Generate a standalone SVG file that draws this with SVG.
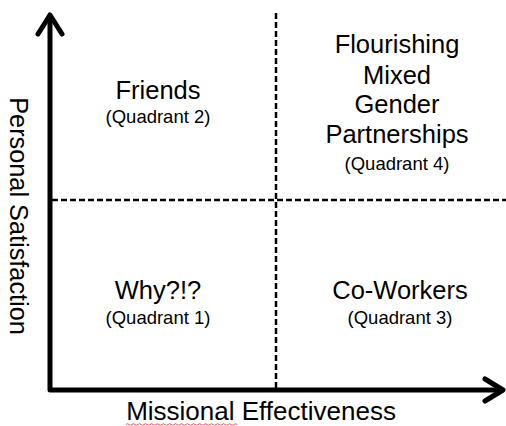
<svg xmlns="http://www.w3.org/2000/svg" width="506" height="426" viewBox="0 0 506 426">
<style>
.axis{stroke:#000;stroke-width:5;fill:none;stroke-linecap:round;stroke-linejoin:round}
.div{stroke:#000;stroke-width:2.5;fill:none;stroke-dasharray:6 3}
text{font-family:"Liberation Sans",Arial,sans-serif;fill:#000;text-anchor:middle}
.t{font-size:25.5px}
.s{font-size:18.5px}
.ax{font-size:26px}
.ay{font-size:25.3px}
</style>
<rect width="506" height="426" fill="#fff"/>
<g id="connectors">
<line class="div" x1="276" y1="13" x2="276" y2="388"/>
<line class="div" x1="52" y1="200" x2="506" y2="200"/>
<path class="axis" d="M50 16 V390 H502"/>
<path class="axis" d="M38 34 L50 15 L62 34"/>
<path class="axis" d="M485 379 L503 390 L485 401"/>
</g>
<g id="q2">
<text class="t" x="158" y="99">Friends</text>
<text class="s" x="158" y="123">(Quadrant 2)</text>
</g>
<g id="q4">
<text class="t"><tspan x="397" y="53">Flourishing</tspan><tspan x="397" y="84">Mixed</tspan><tspan x="397" y="113">Gender</tspan><tspan x="397" y="143">Partnerships</tspan></text>
<text class="s" x="397" y="170">(Quadrant 4)</text>
</g>
<g id="q1">
<text class="t" x="158" y="299">Why?!?</text>
<text class="s" x="158" y="324">(Quadrant 1)</text>
</g>
<g id="q3">
<text class="t" x="400" y="299">Co-Workers</text>
<text class="s" x="400" y="324">(Quadrant 3)</text>
</g>
<g id="x-label">
<text class="ax" x="261" y="420">Missional Effectiveness</text>
<path d="M126 424.5 q1.5 -1.5 3 0 t3 0 t3 0 t3 0 t3 0 t3 0 t3 0 t3 0 t3 0 t3 0 t3 0 t3 0 t3 0 t3 0 t3 0 t3 0 t3 0 t3 0 t3 0 t3 0 t3 0 t3 0 t3 0 t3 0 t3 0 t3 0 t3 0 t3 0 t3 0 t3 0 t3 0 t3 0 t3 0 t3 0 t3 0 t3 0 t3 0" stroke="#e03030" stroke-width="0.8" fill="none"/>
</g>
<g id="y-label">
<text class="ay" transform="translate(10 216) rotate(90)" x="0" y="0">Personal Satisfaction</text>
</g>
</svg>
